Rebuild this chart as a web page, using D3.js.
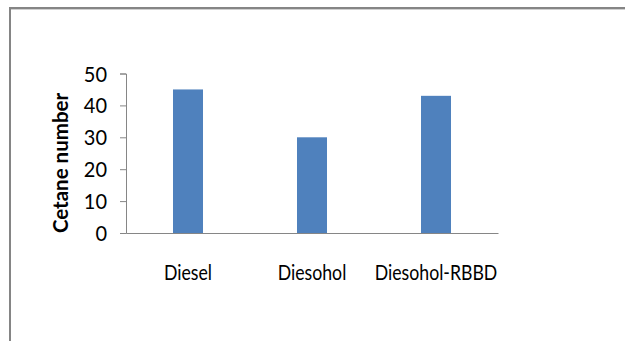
<!DOCTYPE html>
<html><head><meta charset="utf-8">
<script src="https://cdn.jsdelivr.net/npm/d3@7"></script>
<style>
html,body{margin:0;padding:0;background:#fff;}
svg{display:block;}
text{font-family:Lato,"Open Sans",sans-serif;fill:#000;}
</style></head>
<body>
<svg id="chart" width="625" height="341"></svg>
<script>
const categories = ["Diesel", "Diesohol", "Diesohol-RBBD"];
const cetaneValues = [45, 30, 43];
const yTicks = [0, 10, 20, 30, 40, 50];
const yTitle = "Cetane number";

const svg = d3.select("#chart");
svg.append("rect").attr("width",625).attr("height",341).attr("fill","#fff");

// outer frame (top and left edges visible)
svg.append("line").attr("x1",9).attr("x2",625).attr("y1",8).attr("y2",8)
  .attr("stroke","#858585").attr("stroke-width",2);
svg.append("line").attr("x1",9).attr("x2",625).attr("y1",9.5).attr("y2",9.5)
  .attr("stroke","#d0d0d0").attr("stroke-width",1);
svg.append("line").attr("x1",10).attr("x2",10).attr("y1",7).attr("y2",341)
  .attr("stroke","#858585").attr("stroke-width",2);

const x = d3.scaleBand().domain(categories).range([126, 498])
  .paddingInner(0.758).paddingOuter(0.379);
const y = d3.scaleLinear().domain([0, 50]).range([233, 73.5]);

// bars
svg.selectAll("rect.bar").data(categories).join("rect").attr("class","bar")
  .attr("x", d => x(d))
  .attr("width", x.bandwidth())
  .attr("y", (d,i) => y(cetaneValues[i]))
  .attr("height", (d,i) => y(0) - y(cetaneValues[i]))
  .attr("fill", "#4F81BD");

// y axis
const yAxis = d3.axisLeft(y).tickValues(yTicks).tickSize(6).tickPadding(0).tickFormat(d3.format("d"));
const gy = svg.append("g").attr("transform","translate(126,0)").call(yAxis);
gy.select(".domain").attr("stroke","#868686").attr("stroke-width",1);
gy.selectAll(".tick line").attr("stroke","#868686");
gy.selectAll(".tick text").remove();
gy.selectAll(".tick").append("text")
  .attr("transform","translate(-19,0) scale(1,1.05)")
  .attr("text-anchor","end").attr("dy","0.36em")
  .style("font-size","20px")
  .text(d => d);

// x axis
const xAxis = d3.axisBottom(x).tickSize(0).tickPadding(0);
const gx = svg.append("g").attr("transform","translate(0,233)").call(xAxis);
gx.select(".domain").attr("stroke","#868686").attr("stroke-width",1);
gx.selectAll(".tick text").remove();
gx.selectAll(".tick").append("text")
  .attr("transform","translate(0,47) scale(1,1.24)")
  .attr("text-anchor","middle")
  .style("font-size","17.7px")
  .text(d => d);

// y title
svg.append("text")
  .attr("transform","translate(68,163) rotate(-90)")
  .attr("text-anchor","middle")
  .style("font-size","20.5px").style("font-weight","bold")
  .text(yTitle);
</script>
</body></html>
